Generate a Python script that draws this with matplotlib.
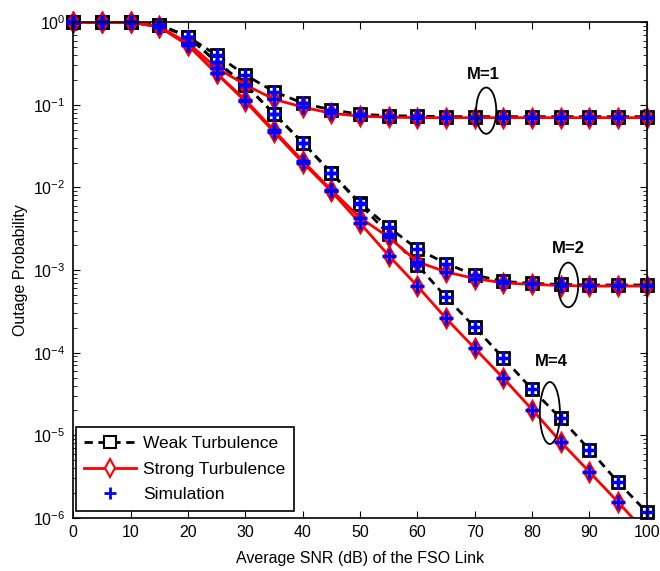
import numpy as np
import matplotlib
matplotlib.use("Agg")
import matplotlib.pyplot as plt
from matplotlib.patches import Ellipse
from matplotlib.ticker import FixedLocator, NullFormatter

plt.rcParams["font.family"] = ["Liberation Sans", "DejaVu Sans"]
plt.rcParams["mathtext.fontset"] = "custom"
plt.rcParams["mathtext.rm"] = "Liberation Sans"

# ── Outage probability vs. average SNR ────────────────────────────────────────
snr_db = np.arange(0, 101, 5)

m1_weak = [1, 1, 1, 0.93, 0.67, 0.40, 0.23, 0.145, 0.105, 0.087, 0.077, 0.074,
           0.073, 0.072, 0.072, 0.072, 0.072, 0.072, 0.072, 0.072, 0.072]
m1_strong = [1, 1, 1, 0.89, 0.56, 0.28, 0.175, 0.117, 0.094, 0.079, 0.073, 0.071,
             0.070, 0.070, 0.070, 0.070, 0.070, 0.070, 0.070, 0.070, 0.070]
m2_weak = [1, 1, 1, 0.93, 0.67, 0.33, 0.175, 0.078, 0.035, 0.015, 0.0065, 0.0033,
           0.0018, 0.0012, 0.00087, 0.00073, 0.00069, 0.00067, 0.00066, 0.00066, 0.00066]
m2_strong = [1, 1, 1, 0.88, 0.53, 0.24, 0.115, 0.049, 0.021, 0.0093, 0.0043, 0.0025,
             0.00126, 0.00095, 0.00079, 0.00070, 0.00067, 0.00065, 0.00064, 0.00064, 0.00064]
m4_weak = [1, 1, 1, 0.93, 0.67, 0.33, 0.175, 0.078, 0.035, 0.015, 0.0063, 0.0027,
           0.00115, 0.00047, 0.000203, 8.6e-5, 3.6e-5, 1.6e-5, 6.7e-6, 2.7e-6, 1.17e-6]
m4_strong = [1, 1, 1, 0.88, 0.53, 0.24, 0.11, 0.047, 0.020, 0.0090, 0.0037, 0.0015,
             0.00064, 0.00026, 0.000113, 4.9e-5, 2.05e-5, 8.3e-6, 3.6e-6, 1.55e-6, 6.5e-7]

weak_curves = [m1_weak, m2_weak, m4_weak]
strong_curves = [m1_strong, m2_strong, m4_strong]

# group annotations: label text, label position, ellipse centre (dB, prob),
# ellipse width (dB), ellipse height (decades)
group_labels = ["M=1", "M=2", "M=4"]
label_pos = [(71.5, 0.235), (86.3, 1.85e-3), (83.4, 7.8e-5)]
ellipse_centres = [(72.0, 10 ** -1.07), (86.3, 10 ** -3.18), (83.1, 10 ** -4.73)]
ellipse_w_db = [3.5, 3.5, 3.5]
ellipse_h_dec = [0.56, 0.54, 0.75]

YMIN, YMAX = 1e-6, 1


def in_view(y):
    # markers are drawn unclipped, so drop points that fall below the axis
    y = np.asarray(y, dtype=float)
    return np.ma.masked_where(y < YMIN, y)


fig = plt.figure(figsize=(6.6, 5.71), dpi=100)
ax = fig.add_axes([0.111, 0.093, 0.869, 0.868])

for y in weak_curves:
    ax.semilogy(snr_db, y, "k--", lw=2, dashes=(3, 2))
    ax.semilogy(snr_db, in_view(y), "ks", ls="none", ms=9, mew=2, mfc="white",
                clip_on=False)
for y in strong_curves:
    ax.semilogy(snr_db, y, "r-", lw=2)
    ax.semilogy(snr_db, in_view(y), "rd", ls="none", ms=9, mew=2, mfc="white",
                clip_on=False)
for y in weak_curves + strong_curves:
    ax.semilogy(snr_db, in_view(y), "b+", ms=10, mew=2.5, ls="none", clip_on=False)

# legend handles
h_weak, = ax.plot([], [], "k--s", lw=2, ms=9, mew=1.5, mfc="white", dashes=(3, 2))
h_strong, = ax.plot([], [], "r-d", lw=2, ms=9, mew=1.5, mfc="white")
h_sim, = ax.plot([], [], "b+", ms=9, mew=2, ls="none")
leg = ax.legend([h_weak, h_strong, h_sim],
                ["Weak Turbulence", "Strong Turbulence", "Simulation"],
                loc="lower left", bbox_to_anchor=(0.004, 0.014), borderaxespad=0,
                fontsize=12.5, handlelength=3.0, fancybox=False,
                framealpha=1, edgecolor="black", labelspacing=0.6,
                handletextpad=0.4, borderpad=0.5)
leg.get_frame().set_linewidth(1.2)
leg.set_zorder(10)

ymin_dec, ymax_dec = np.log10(YMIN), np.log10(YMAX)
for text, (lx, ly), (cx, cy), w, h in zip(group_labels, label_pos, ellipse_centres,
                                         ellipse_w_db, ellipse_h_dec):
    ax.text(lx, ly, text, ha="center", va="center", fontsize=12, fontweight="bold")
    # ellipse in axes fraction so it stays elliptical on the log scale
    fx = cx / 100.0
    fy = (np.log10(cy) - ymin_dec) / (ymax_dec - ymin_dec)
    ax.add_patch(Ellipse((fx, fy), w / 100.0, h / (ymax_dec - ymin_dec),
                         transform=ax.transAxes, fill=False, ec="black", lw=1.3,
                         zorder=5))

ax.set_xlim(0, 100)
ax.set_ylim(YMIN, YMAX)
ax.set_xticks(range(0, 101, 10))
decades = 10.0 ** np.arange(-6, 1)
ax.yaxis.set_major_locator(FixedLocator(decades))
ax.yaxis.set_minor_locator(FixedLocator([d * k for d in decades[:-1] for k in range(2, 10)]))
ax.yaxis.set_minor_formatter(NullFormatter())
ax.tick_params(which="both", direction="in", top=True, right=True, labelsize=11.5)
ax.tick_params(which="major", length=5)
ax.tick_params(which="minor", length=3)
ax.tick_params(axis="y", pad=5.5)
ax.tick_params(axis="x", pad=5)
for s in ax.spines.values():
    s.set_linewidth(1.2)
ax.set_xlabel("Average SNR (dB) of the FSO Link", fontsize=11.5, labelpad=8)
ax.set_ylabel("Outage Probability", fontsize=11.5, labelpad=4)

fig.savefig("out.png", dpi=100)
